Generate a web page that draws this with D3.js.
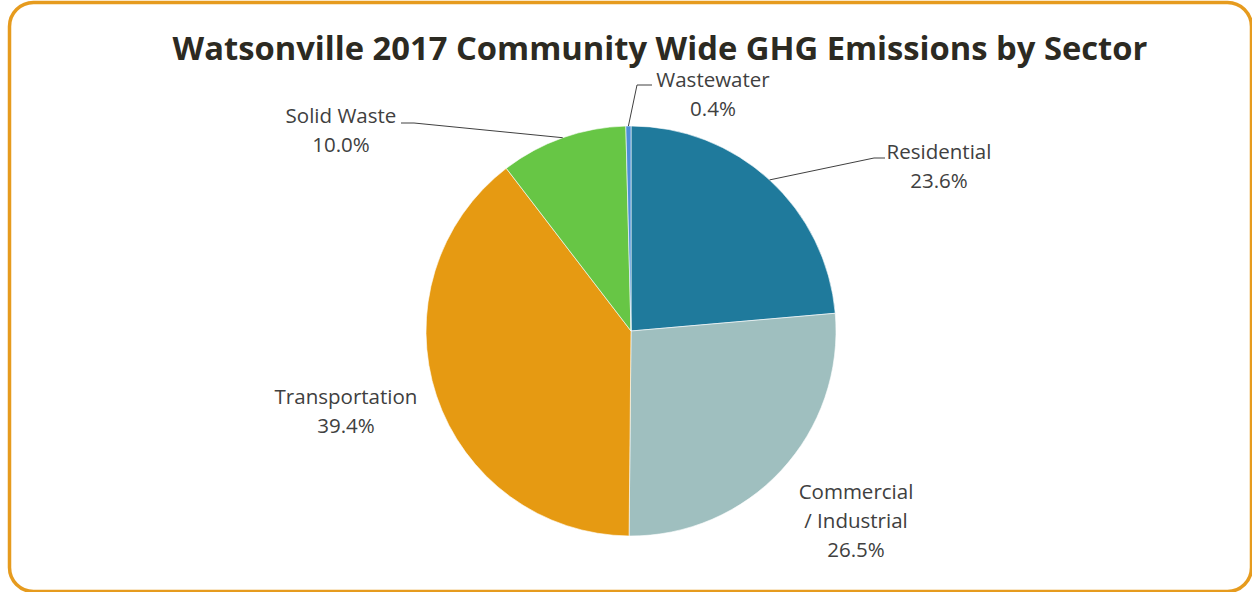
<!DOCTYPE html>
<html>
<head>
<meta charset="utf-8">
<script src="https://cdn.jsdelivr.net/npm/d3@7"></script>
<style>
  html, body { margin: 0; padding: 0; background: #ffffff; }
  svg { display: block; }
</style>
</head>
<body>
<svg id="chart" width="1252" height="592"></svg>
<script>
// Sector names and their share of 2017 community-wide GHG emissions (%)
const sectors = ["Residential", "Commercial / Industrial", "Transportation", "Solid Waste", "Wastewater"];
const shares = [23.6, 26.5, 39.4, 10.0, 0.4];
const sectorColors = ["#1f7a9c", "#9fbfbf", "#e69a12", "#67c645", "#4d8fd6"];
// Label text lines for each sector
const labelLines = [
  ["Residential"],
  ["Commercial", "/ Industrial"],
  ["Transportation"],
  ["Solid Waste"],
  ["Wastewater"]
];

const W = 1252, H = 592;
const cx = 631, cy = 331, radius = 205;

// Label placement (centre x, first baseline) and leader line geometry
const labelLayout = [
  { x: 939, y: 159, leader: { elbow: [874, 158], end: [885, 158] } },
  { x: 856, y: 499, leader: null },
  { x: 346, y: 404, leader: null },
  { x: 341, y: 123, leader: { elbow: [414, 123], end: [401, 123] } },
  { x: 713, y: 87,  leader: { elbow: [637, 85], end: [652, 85] } }
];
const lineGap = 29;

const svg = d3.select("#chart");

// Rounded orange frame
svg.append("rect")
  .attr("x", 9.5).attr("y", 2.5)
  .attr("width", 1242).attr("height", 589)
  .attr("rx", 24).attr("ry", 24)
  .attr("fill", "#ffffff")
  .attr("stroke", "#e69b1e")
  .attr("stroke-width", 3.5);

// Title, sized to span its slot
const title = svg.append("text")
  .attr("x", 660).attr("y", 60)
  .attr("text-anchor", "middle")
  .attr("font-family", "'Open Sans', 'Noto Sans', sans-serif")
  .attr("font-weight", 700)
  .attr("font-size", 34)
  .attr("fill", "#2c2a22")
  .text("Watsonville 2017 Community Wide GHG Emissions by Sector");
{
  const w = title.node().getComputedTextLength();
  title.attr("font-size", 34 * 975 / w);
}

const data = sectors.map((s, i) => ({ name: s, value: shares[i], color: sectorColors[i], lines: labelLines[i], layout: labelLayout[i] }));

const pie = d3.pie().sort(null).value(d => d.value);
const arcs = pie(data);
const arc = d3.arc().innerRadius(0).outerRadius(radius);

const g = svg.append("g").attr("transform", `translate(${cx},${cy})`);

g.selectAll("path.slice")
  .data(arcs)
  .join("path")
  .attr("class", "slice")
  .attr("d", arc)
  .attr("fill", d => d.data.color)
  .attr("stroke", "#ffffff")
  .attr("stroke-width", 0.6);

// Leader lines from the slice rim (at its mid angle) to the label
arcs.forEach(a => {
  const L = a.data.layout.leader;
  if (!L) return;
  const mid = (a.startAngle + a.endAngle) / 2;
  const sx = cx + radius * Math.sin(mid);
  const sy = cy - radius * Math.cos(mid);
  svg.append("polyline")
    .attr("points", [[sx, sy], L.elbow, L.end].map(p => p.join(",")).join(" "))
    .attr("fill", "none")
    .attr("stroke", "#404040")
    .attr("stroke-width", 1);
});

// Labels: sector name lines followed by the percentage
const labelFont = "'Open Sans', 'Noto Sans', sans-serif";
const probe = svg.append("text")
  .attr("font-family", labelFont).attr("font-size", 18)
  .text("Transportation");
const labelSize = 18 * 143 / probe.node().getComputedTextLength();
probe.remove();

arcs.forEach(a => {
  const d = a.data;
  const lines = d.lines.concat([d3.format(".1f")(d.value) + "%"]);
  const t = svg.append("text")
    .attr("text-anchor", "middle")
    .attr("font-family", labelFont)
    .attr("font-size", labelSize)
    .attr("fill", "#404040");
  lines.forEach((ln, i) => {
    t.append("tspan")
      .attr("x", d.layout.x)
      .attr("y", d.layout.y + i * lineGap)
      .text(ln);
  });
});
</script>
</body>
</html>
